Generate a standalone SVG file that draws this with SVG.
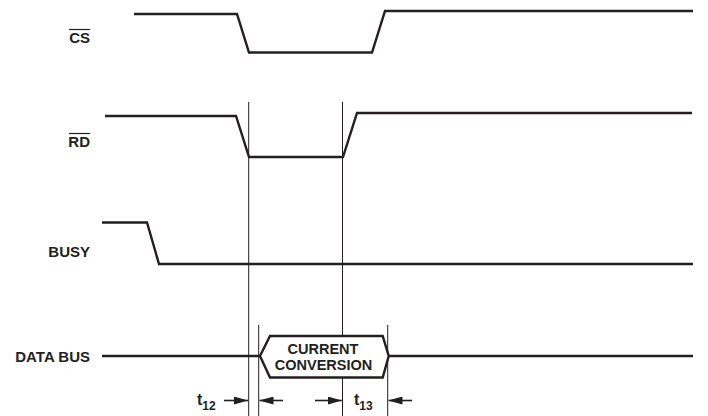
<svg xmlns="http://www.w3.org/2000/svg" width="708" height="416" viewBox="0 0 708 416">
<style>
.sig{fill:none;stroke:#231f20;stroke-width:2.4;stroke-linejoin:miter}
.ref{fill:none;stroke:#231f20;stroke-width:1}
.lbl{font-family:"Liberation Sans",Arial,sans-serif;font-weight:bold;font-size:15px;fill:#231f20}
.box{font-family:"Liberation Sans",Arial,sans-serif;font-weight:bold;font-size:14.5px;fill:#231f20}
.tt{font-size:16px}
.sub{font-size:12px}
.arr{stroke:#231f20;stroke-width:1.6}
</style>
<defs>
<marker id="ah" viewBox="0 0 14 8" refX="14" refY="4" markerWidth="14" markerHeight="8" markerUnits="userSpaceOnUse" orient="auto">
<path d="M0,0 L14,4 L0,8 Z" fill="#231f20"/>
</marker>
</defs>
<rect width="708" height="416" fill="#fff"/>
<g id="labels">
<text id="lbl-cs" class="lbl" x="90" y="42.5" text-anchor="end">CS</text>
<line x1="69" y1="29.5" x2="90" y2="29.5" stroke="#231f20" stroke-width="1.2"/>
<text id="lbl-rd" class="lbl" x="90" y="146.5" text-anchor="end">RD</text>
<line x1="69" y1="133.5" x2="90" y2="133.5" stroke="#231f20" stroke-width="1.2"/>
<text id="lbl-busy" class="lbl" x="90" y="256.5" text-anchor="end">BUSY</text>
<text id="lbl-databus" class="lbl" x="90" y="361.5" text-anchor="end">DATA BUS</text>
</g>
<g id="connectors">
<line class="ref" x1="248.7" y1="102" x2="248.7" y2="416"/>
<line class="ref" x1="342.5" y1="102" x2="342.5" y2="416"/>
<line class="ref" x1="258.7" y1="325" x2="258.7" y2="416"/>
<line class="ref" x1="387.7" y1="325" x2="387.7" y2="416"/>
<line class="arr" x1="224" y1="400.5" x2="248" y2="400.5" marker-end="url(#ah)"/>
<line class="arr" x1="283" y1="400.5" x2="259.5" y2="400.5" marker-end="url(#ah)"/>
<line class="arr" x1="315" y1="400.5" x2="341.8" y2="400.5" marker-end="url(#ah)"/>
<line class="arr" x1="412" y1="400.5" x2="388.5" y2="400.5" marker-end="url(#ah)"/>
</g>
<g id="sig-cs">
<polyline class="sig" points="134,14 237,14 249,52.5 372,52.5 385,11 693,11"/>
</g>
<g id="sig-rd">
<polyline class="sig" points="105,116 236,116 249,157 343,157 357,113 692,113"/>
</g>
<g id="sig-busy">
<polyline class="sig" points="102,222.5 147,222.5 159,264 693,264"/>
</g>
<g id="sig-databus">
<line class="sig" x1="102" y1="356" x2="260" y2="356"/>
<line class="sig" x1="388.7" y1="356" x2="693" y2="356"/>
</g>
<g id="current-conversion">
<polygon points="260,356 270,336 382.7,336 388.7,356 382.7,377.5 270,377.5" fill="#fff" stroke="#231f20" stroke-width="2.4"/>
<text class="box" x="323" y="353.5" text-anchor="middle">CURRENT</text>
<text class="box" x="323.5" y="369.5" text-anchor="middle">CONVERSION</text>
</g>
<g id="timing-labels">
<text class="lbl tt" x="197" y="405">t<tspan class="sub" dy="5">12</tspan></text>
<text class="lbl tt" x="354" y="405">t<tspan class="sub" dy="5">13</tspan></text>
</g>
</svg>
